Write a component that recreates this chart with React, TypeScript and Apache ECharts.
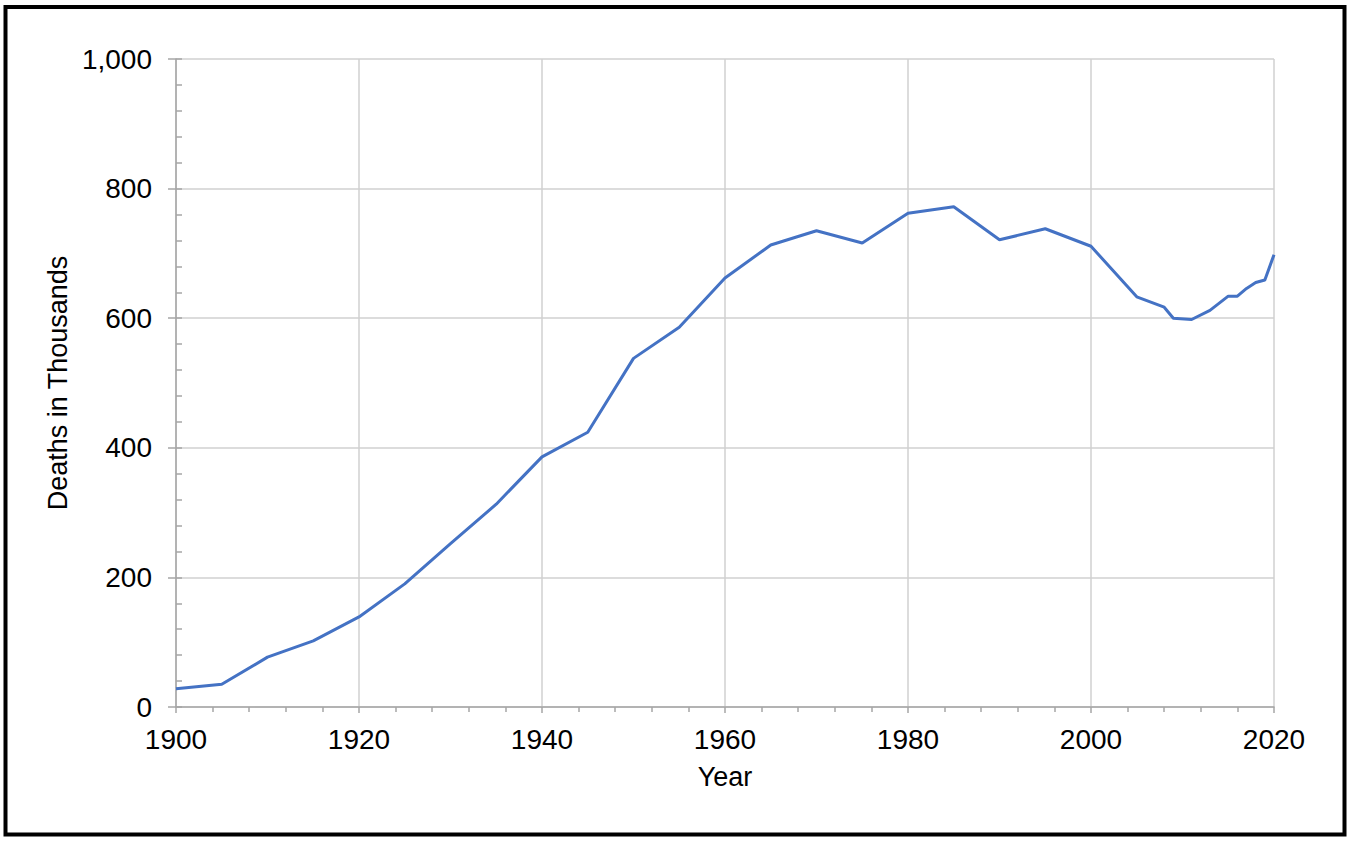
import React, { useEffect, useRef } from "react";
import * as echarts from "echarts";

const years = [1900, 1905, 1910, 1915, 1920, 1925, 1930, 1935, 1940, 1945, 1950, 1955, 1960, 1965, 1970, 1975, 1980, 1985, 1990, 1995, 2000, 2005, 2008, 2009, 2011, 2013, 2015, 2016, 2017, 2018, 2019, 2020];
const deaths = [28, 35, 77, 102, 139, 190, 252, 313, 386, 424, 538, 586, 662, 713, 735, 716, 762, 772, 721, 738, 711, 633, 617, 600, 598, 612, 634, 634, 646, 655, 659, 698];
const xTitle = "Year";
const yTitle = "Deaths in Thousands";

export default function App() {
  const ref = useRef<HTMLDivElement>(null);
  useEffect(() => {
    if (!ref.current) return;
    const chart = echarts.init(ref.current, null, { renderer: "svg" });
    const font = "'Liberation Sans', Arial, sans-serif";
    chart.setOption({
      animation: false,
      backgroundColor: "#ffffff",
      grid: { left: 176, right: 76, top: 59, bottom: 135, containLabel: false },
      graphic: [
        {
          type: "rect",
          shape: { x: 5.5, y: 7, width: 1339, height: 827.5 },
          style: { fill: "none", stroke: "#000", lineWidth: 4 },
          silent: true,
        },
      ],
      xAxis: {
        type: "value",
        min: 1900,
        max: 2020,
        interval: 20,
        name: xTitle,
        nameLocation: "middle",
        nameGap: 56,
        nameTextStyle: { fontSize: 27, color: "#000", fontFamily: font },
        axisLine: { show: true, lineStyle: { color: "#a6a6a6", width: 1.5 } },
        axisTick: { show: true, length: 6, lineStyle: { color: "#a6a6a6", width: 1.5 } },
        minorTick: { show: true, splitNumber: 5, length: 5, lineStyle: { color: "#a6a6a6", width: 1.5 } },
        axisLabel: { fontSize: 28, color: "#000", fontFamily: font, margin: 18, formatter: (v: number) => String(v) },
        splitLine: { show: true, lineStyle: { color: "#d0d0d0", width: 1.5 } },
      },
      yAxis: [
        {
          type: "value",
          min: 0,
          max: 1000,
          interval: 200,
          name: yTitle,
          nameLocation: "middle",
          nameGap: 103,
          nameTextStyle: { fontSize: 27, color: "#000", fontFamily: font },
          axisLine: { show: true, lineStyle: { color: "#a6a6a6", width: 1.5 } },
          axisTick: { show: true, length: 8, lineStyle: { color: "#a6a6a6", width: 1.5 } },
          axisLabel: {
            fontSize: 28,
            color: "#000",
            fontFamily: font,
            margin: 24,
            formatter: (v: number) => v.toLocaleString("en-US"),
          },
          splitLine: { show: true, lineStyle: { color: "#d0d0d0", width: 1.5 } },
        },
        {
          type: "value",
          min: 0,
          max: 1000,
          interval: 40,
          position: "left",
          axisLine: { show: false },
          axisTick: { show: true, inside: true, length: 6, lineStyle: { color: "#a6a6a6", width: 1.5 } },
          axisLabel: { show: false },
          splitLine: { show: false },
        },
      ],
      series: [
        {
          type: "line",
          yAxisIndex: 0,
          data: years.map((y, i) => [y, deaths[i]]),
          showSymbol: false,
          symbol: "none",
          lineStyle: { color: "#4472c4", width: 3 },
          itemStyle: { color: "#4472c4" },
        },
      ],
    });
    return () => chart.dispose();
  }, []);
  return (
    <div
      ref={ref}
      style={{ position: "fixed", left: 0, top: 0, width: 1350, height: 842, background: "#fff" }}
    />
  );
}
